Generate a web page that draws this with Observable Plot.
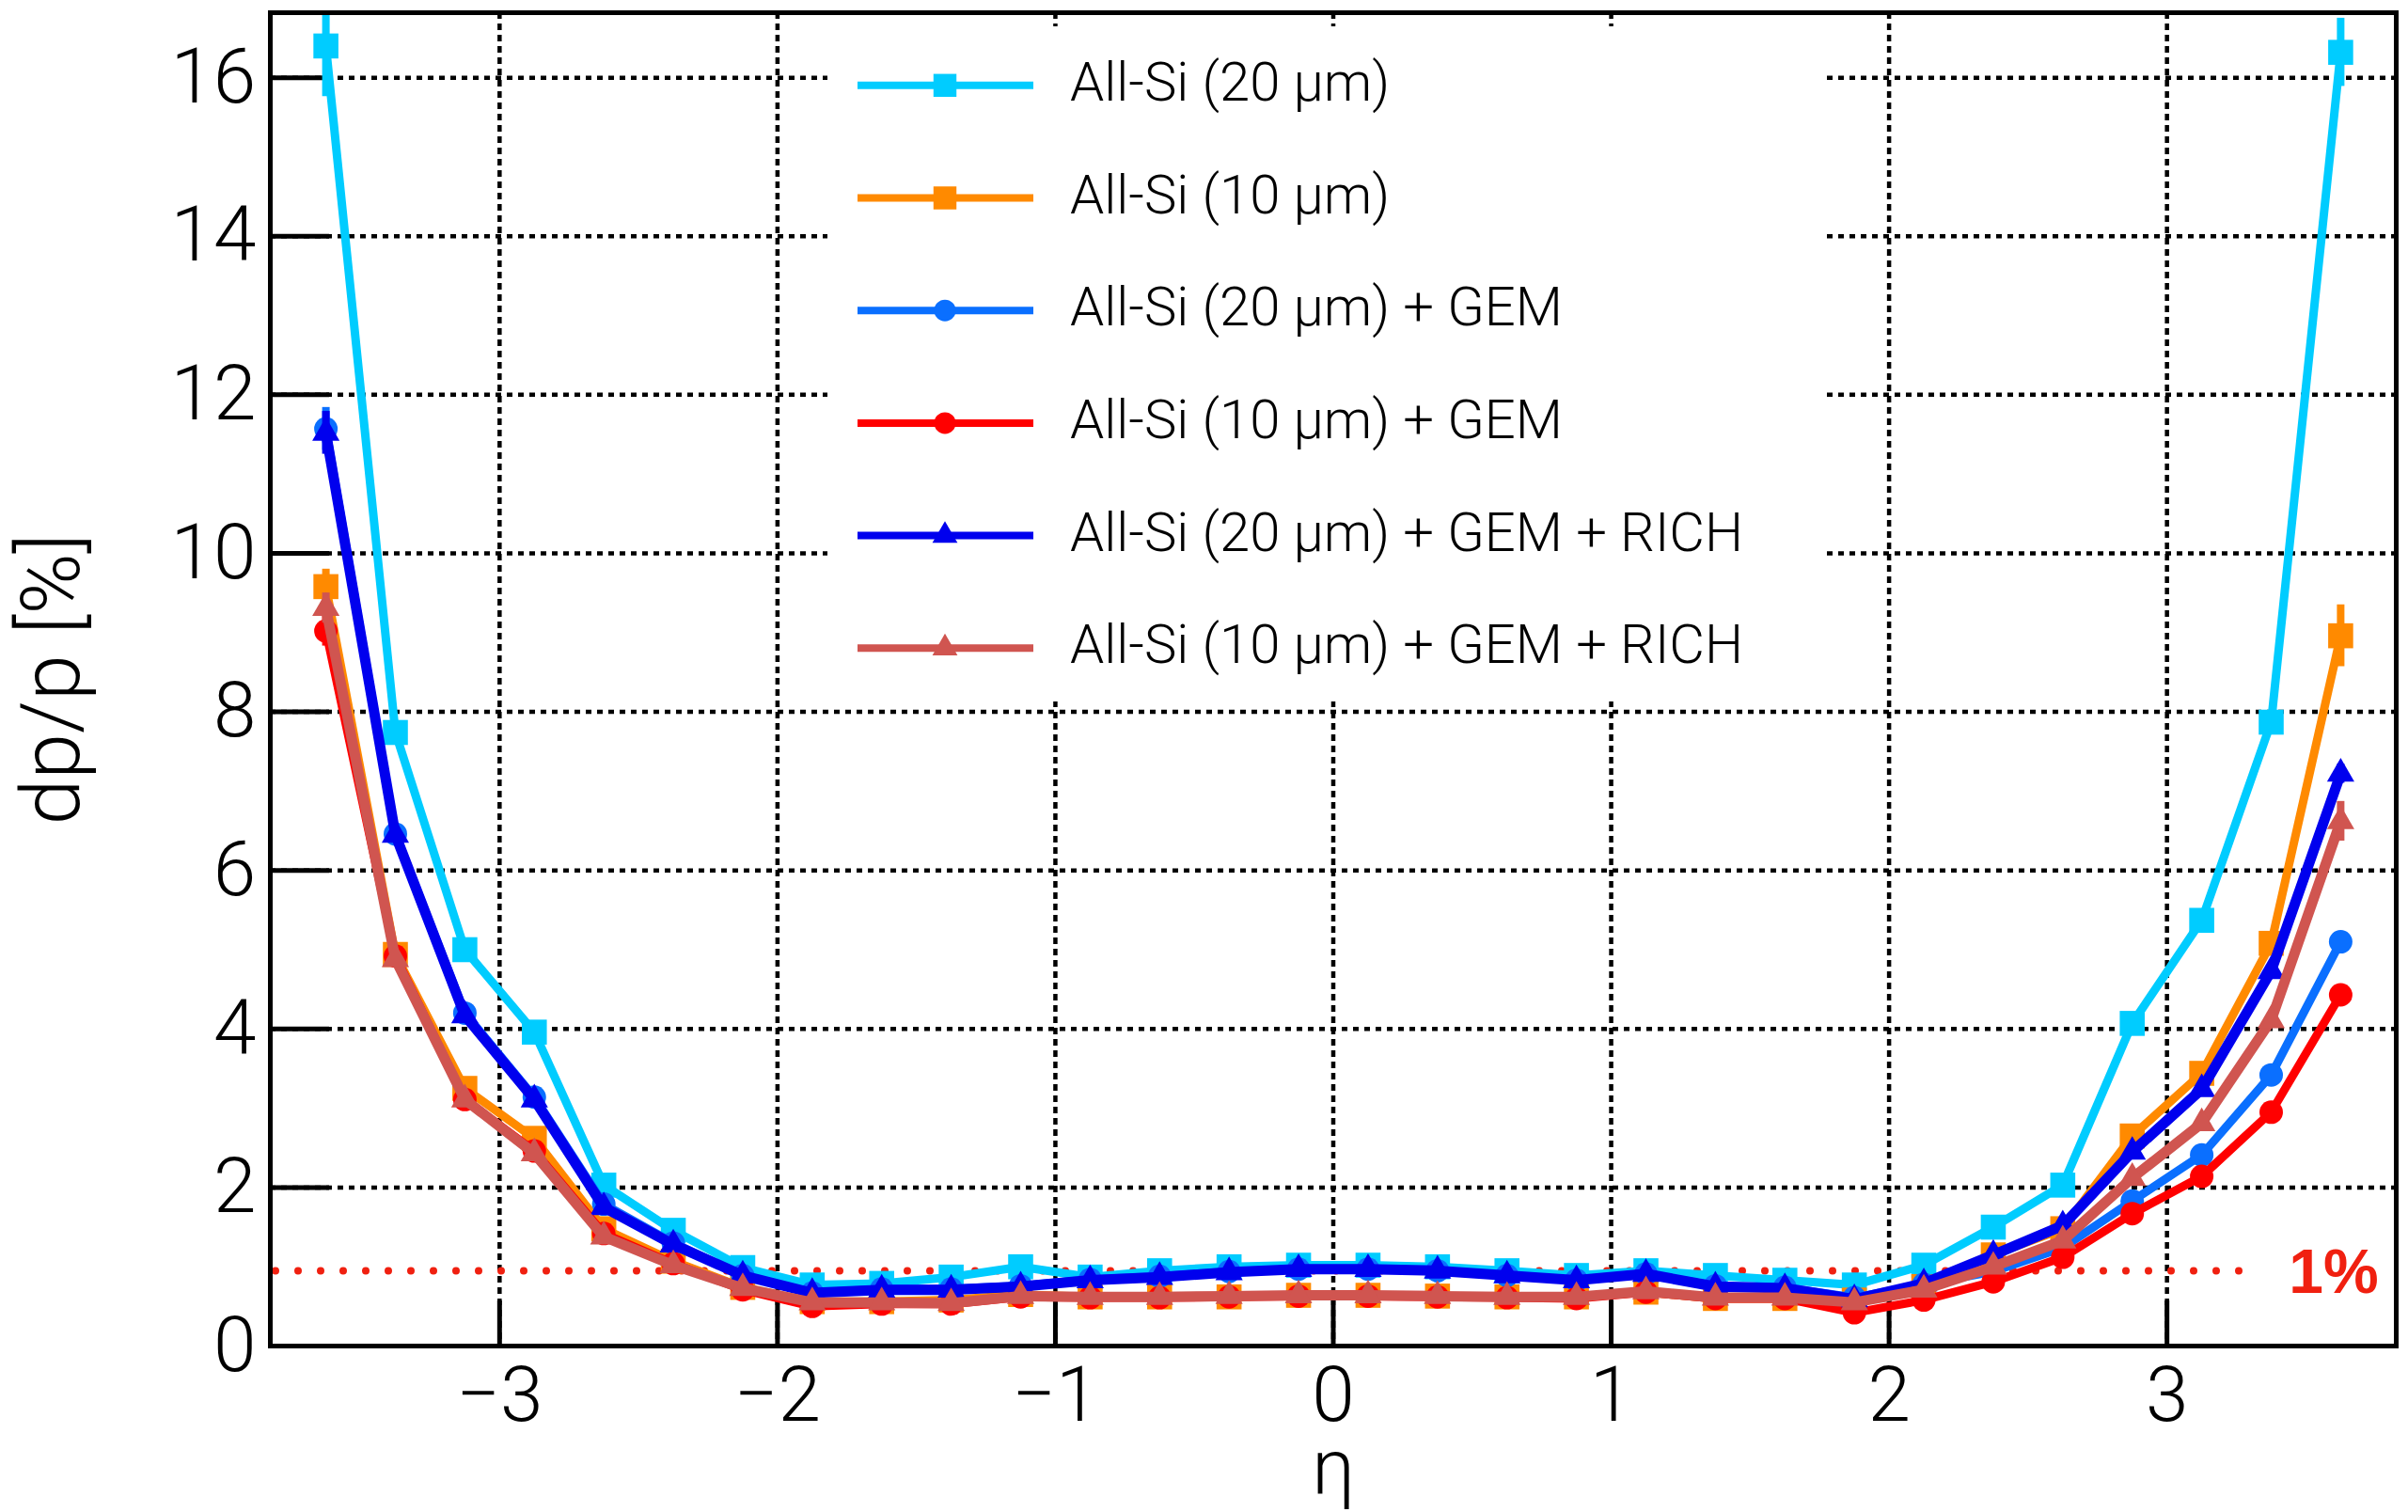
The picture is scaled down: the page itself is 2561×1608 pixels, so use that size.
<!DOCTYPE html>
<html>
<head>
<meta charset="utf-8">
<script src="https://cdn.jsdelivr.net/npm/d3@7"></script>
<script src="https://cdn.jsdelivr.net/npm/@observablehq/plot@0.6"></script>
<style>
  html, body { margin: 0; padding: 0; background: #fff; overflow: hidden; }
</style>
</head>
<body>
<div id="chart"></div>
<script>
// ---------------- DATA ----------------
const eta = [-3.625, -3.375, -3.125, -2.875, -2.625, -2.375, -2.125, -1.875, -1.625, -1.375,
             -1.125, -0.875, -0.625, -0.375, -0.125, 0.125, 0.375, 0.625, 0.875, 1.125,
             1.375, 1.625, 1.875, 2.125, 2.375, 2.625, 2.875, 3.125, 3.375, 3.625];

const allSi20 = [16.40, 7.74, 5.00, 3.96, 2.03, 1.46, 0.99, 0.77, 0.79, 0.87,
                 1.00, 0.87, 0.95, 1.00, 1.02, 1.02, 1.00, 0.95, 0.89, 0.95,
                 0.89, 0.83, 0.77, 1.02, 1.50, 2.03, 4.07, 5.37, 7.87, 16.32];
const allSi20Err = [0.64, 0.10, 0.05, 0.04, 0.02, 0.02, 0.01, 0.01, 0.01, 0.01,
                    0.01, 0.01, 0.01, 0.01, 0.01, 0.01, 0.01, 0.01, 0.01, 0.01,
                    0.01, 0.01, 0.01, 0.01, 0.02, 0.02, 0.04, 0.05, 0.10, 0.43];

const allSi10 = [9.58, 4.94, 3.25, 2.62, 1.48, 1.07, 0.74, 0.56, 0.56, 0.58,
                 0.65, 0.62, 0.62, 0.62, 0.64, 0.64, 0.63, 0.62, 0.62, 0.68,
                 0.60, 0.60, 0.58, 0.75, 1.15, 1.48, 2.65, 3.44, 5.08, 8.96];
const allSi10Err = [0.22, 0.06, 0.03, 0.02, 0.02, 0.01, 0.01, 0.01, 0.01, 0.01,
                    0.01, 0.01, 0.01, 0.01, 0.01, 0.01, 0.01, 0.01, 0.01, 0.01,
                    0.01, 0.01, 0.01, 0.01, 0.01, 0.02, 0.03, 0.05, 0.08, 0.39];

const allSi20Gem = [11.57, 6.46, 4.20, 3.14, 1.79, 1.30, 0.89, 0.67, 0.72, 0.72,
                    0.76, 0.84, 0.88, 0.94, 0.97, 0.97, 0.95, 0.89, 0.83, 0.91,
                    0.76, 0.74, 0.61, 0.78, 0.94, 1.24, 1.83, 2.41, 3.42, 5.10];
const allSi20GemErr = [0.27, 0.06, 0.03, 0.02, 0.02, 0.01, 0.01, 0.01, 0.01, 0.01,
                       0.01, 0.01, 0.01, 0.01, 0.01, 0.01, 0.01, 0.01, 0.01, 0.01,
                       0.01, 0.01, 0.01, 0.01, 0.01, 0.01, 0.02, 0.03, 0.04, 0.08];

const allSi10Gem = [9.02, 4.92, 3.11, 2.46, 1.42, 1.04, 0.71, 0.50, 0.53, 0.53,
                    0.62, 0.61, 0.61, 0.62, 0.63, 0.63, 0.62, 0.61, 0.60, 0.68,
                    0.60, 0.60, 0.42, 0.58, 0.81, 1.12, 1.67, 2.14, 2.95, 4.43];
const allSi10GemErr = [0.19, 0.05, 0.03, 0.02, 0.01, 0.01, 0.01, 0.01, 0.01, 0.01,
                       0.01, 0.01, 0.01, 0.01, 0.01, 0.01, 0.01, 0.01, 0.01, 0.01,
                       0.01, 0.01, 0.01, 0.01, 0.01, 0.01, 0.02, 0.02, 0.03, 0.07];

const allSi20GemRich = [11.52, 6.45, 4.17, 3.11, 1.75, 1.28, 0.89, 0.67, 0.71, 0.71,
                        0.75, 0.83, 0.87, 0.93, 0.97, 0.97, 0.95, 0.89, 0.83, 0.91,
                        0.75, 0.73, 0.59, 0.79, 1.15, 1.52, 2.45, 3.24, 4.73, 7.22];
const allSi20GemRichErr = [0.27, 0.06, 0.03, 0.02, 0.02, 0.01, 0.01, 0.01, 0.01, 0.01,
                           0.01, 0.01, 0.01, 0.01, 0.01, 0.01, 0.01, 0.01, 0.01, 0.01,
                           0.01, 0.01, 0.01, 0.01, 0.01, 0.02, 0.03, 0.04, 0.06, 0.12];

const allSi10GemRich = [9.31, 4.88, 3.11, 2.43, 1.38, 1.02, 0.73, 0.55, 0.55, 0.54,
                        0.63, 0.62, 0.62, 0.63, 0.64, 0.64, 0.63, 0.62, 0.62, 0.69,
                        0.61, 0.61, 0.55, 0.71, 1.00, 1.33, 2.12, 2.81, 4.11, 6.62];
const allSi10GemRichErr = [0.19, 0.05, 0.03, 0.02, 0.01, 0.01, 0.01, 0.01, 0.01, 0.01,
                           0.01, 0.01, 0.01, 0.01, 0.01, 0.01, 0.01, 0.01, 0.01, 0.01,
                           0.01, 0.01, 0.01, 0.01, 0.01, 0.02, 0.03, 0.04, 0.06, 0.25];

const seriesNames = ["All-Si (20 μm)", "All-Si (10 μm)", "All-Si (20 μm) + GEM",
                     "All-Si (10 μm) + GEM", "All-Si (20 μm) + GEM + RICH", "All-Si (10 μm) + GEM + RICH"];
const seriesValues = [allSi20, allSi10, allSi20Gem, allSi10Gem, allSi20GemRich, allSi10GemRich];
const seriesErrors = [allSi20Err, allSi10Err, allSi20GemErr, allSi10GemErr, allSi20GemRichErr, allSi10GemRichErr];

const xTicks = [-3, -2, -1, 0, 1, 2, 3];
const yTicks = [0, 2, 4, 6, 8, 10, 12, 14, 16];
const onePercentLevel = 0.95;
const onePercentLabel = "1%";
const xLabel = "η";
const yLabel = "dp/p [%]";

// ---------------- STYLE ----------------
const W = 2561, H = 1608;
const M = {left: 287, right: 13, top: 13, bottom: 177};
const xDomain = [-3.825, 3.825];
const yDomain = [0, 16.82];
const oneLineEnd = 3.265;
const oneLabelX = 3.6;
const FONT = "Roboto, 'Liberation Sans', Arial, sans-serif";
const seriesColors = ["#00ccff", "#ff8a00", "#0a6fff", "#ff0000", "#0000ee", "#d05550"];
const seriesSymbols = ["square", "square", "circle", "circle", "triangle", "triangle"];
const symbolR = {square: 15, circle: 12.5, triangle: 10.8};
const lineWidths = [9, 9, 9, 9, 11, 11];
const red1 = "#f02010";

const frameW = W - M.left - M.right;
const frameH = H - M.top - M.bottom;

const fmt = d => (d < 0 ? "\u2212" + Math.abs(d) : String(d));

const marks = [
  Plot.gridY(yTicks, {stroke: "black", strokeOpacity: 1, strokeWidth: 4.5, strokeDasharray: "6,6"}),
  Plot.gridX(xTicks, {stroke: "black", strokeOpacity: 1, strokeWidth: 4.5, strokeDasharray: "7,5"}),
  // major ticks drawn inside the frame
  Plot.tickY(yTicks, {y: d => d, stroke: "black", strokeWidth: 5, insetRight: frameW - 63}),
  Plot.tickX(xTicks, {x: d => d, stroke: "black", strokeWidth: 5, insetTop: frameH - 48}),
  // 1% reference line
  Plot.ruleY([onePercentLevel], {y: d => d, x1: xDomain[0], x2: oneLineEnd, stroke: red1, strokeWidth: 8,
    strokeDasharray: "0,24", strokeDashoffset: 18, strokeLinecap: "round"}),
];

seriesNames.forEach((name, i) => {
  const rows = eta.map((x, j) => ({x, y: seriesValues[i][j], e: seriesErrors[i][j]}));
  marks.push(
    Plot.line(rows, {x: "x", y: "y", stroke: seriesColors[i], strokeWidth: lineWidths[i],
      strokeLinejoin: "round", strokeLinecap: "butt"}),
    Plot.ruleX(rows, {x: "x", y1: d => d.y - d.e, y2: d => d.y + d.e, stroke: seriesColors[i],
      strokeWidth: 8, clip: "frame"}),
    Plot.dot(rows, {x: "x", y: "y", symbol: seriesSymbols[i], r: symbolR[seriesSymbols[i]],
      fill: seriesColors[i], stroke: "none"})
  );
});

marks.push(
  Plot.text([onePercentLabel], {x: oneLabelX, y: onePercentLevel, text: d => d, fill: red1,
    fontWeight: "bold", fontSize: 66, fontFamily: "'Liberation Sans', Arial, sans-serif",
    textAnchor: "middle", lineAnchor: "middle", dy: 2}),
  Plot.axisY(yTicks, {tickSize: 0, tickPadding: 15, label: null, tickFormat: fmt, fontSize: 82}),
  Plot.axisX(xTicks, {tickSize: 0, tickPadding: 21, label: null, tickFormat: fmt, fontSize: 82}),
  Plot.text([yLabel], {frameAnchor: "left", rotate: -90, dx: -204, text: d => d,
    lineAnchor: "bottom", textAnchor: "middle", fontSize: 88}),
  Plot.text([xLabel], {frameAnchor: "bottom", dy: 156, text: d => d,
    lineAnchor: "bottom", textAnchor: "middle", fontSize: 82}),
  Plot.frame({stroke: "black", strokeWidth: 5})
);

const chart = Plot.plot({
  width: W, height: H,
  marginLeft: M.left, marginRight: M.right, marginTop: M.top, marginBottom: M.bottom,
  x: {domain: xDomain, label: null},
  y: {domain: yDomain, label: null},
  style: {fontFamily: FONT, fontSize: "82px", fontWeight: 300, background: "white", color: "black", overflow: "visible"},
  marks
});

// ---------------- LEGEND (inside the frame) ----------------
const svg = d3.select(chart);
const lg = svg.append("g").attr("class", "legend").attr("text-anchor", "start");
lg.append("rect").attr("x", 880).attr("y", 28).attr("width", 1060).attr("height", 718).attr("fill", "white");
const rowY0 = 90.8, rowStep = 119.7;
seriesNames.forEach((name, i) => {
  const y = rowY0 + i * rowStep;
  lg.append("line").attr("x1", 912).attr("x2", 1099).attr("y1", y).attr("y2", y)
    .attr("stroke", seriesColors[i]).attr("stroke-width", 8);
  const sym = {square: d3.symbolSquare, circle: d3.symbolCircle, triangle: d3.symbolTriangle}[seriesSymbols[i]];
  const r = symbolR[seriesSymbols[i]] * 0.92;
  lg.append("path").attr("d", d3.symbol(sym, Math.PI * r * r)())
    .attr("transform", `translate(1005,${y})`).attr("fill", seriesColors[i]);
  lg.append("text").attr("x", 1138).attr("y", y + 16).attr("font-size", 58)
    .attr("text-anchor", "start").attr("fill", "black").text(name);
});

document.getElementById("chart").appendChild(chart);
</script>
</body>
</html>
